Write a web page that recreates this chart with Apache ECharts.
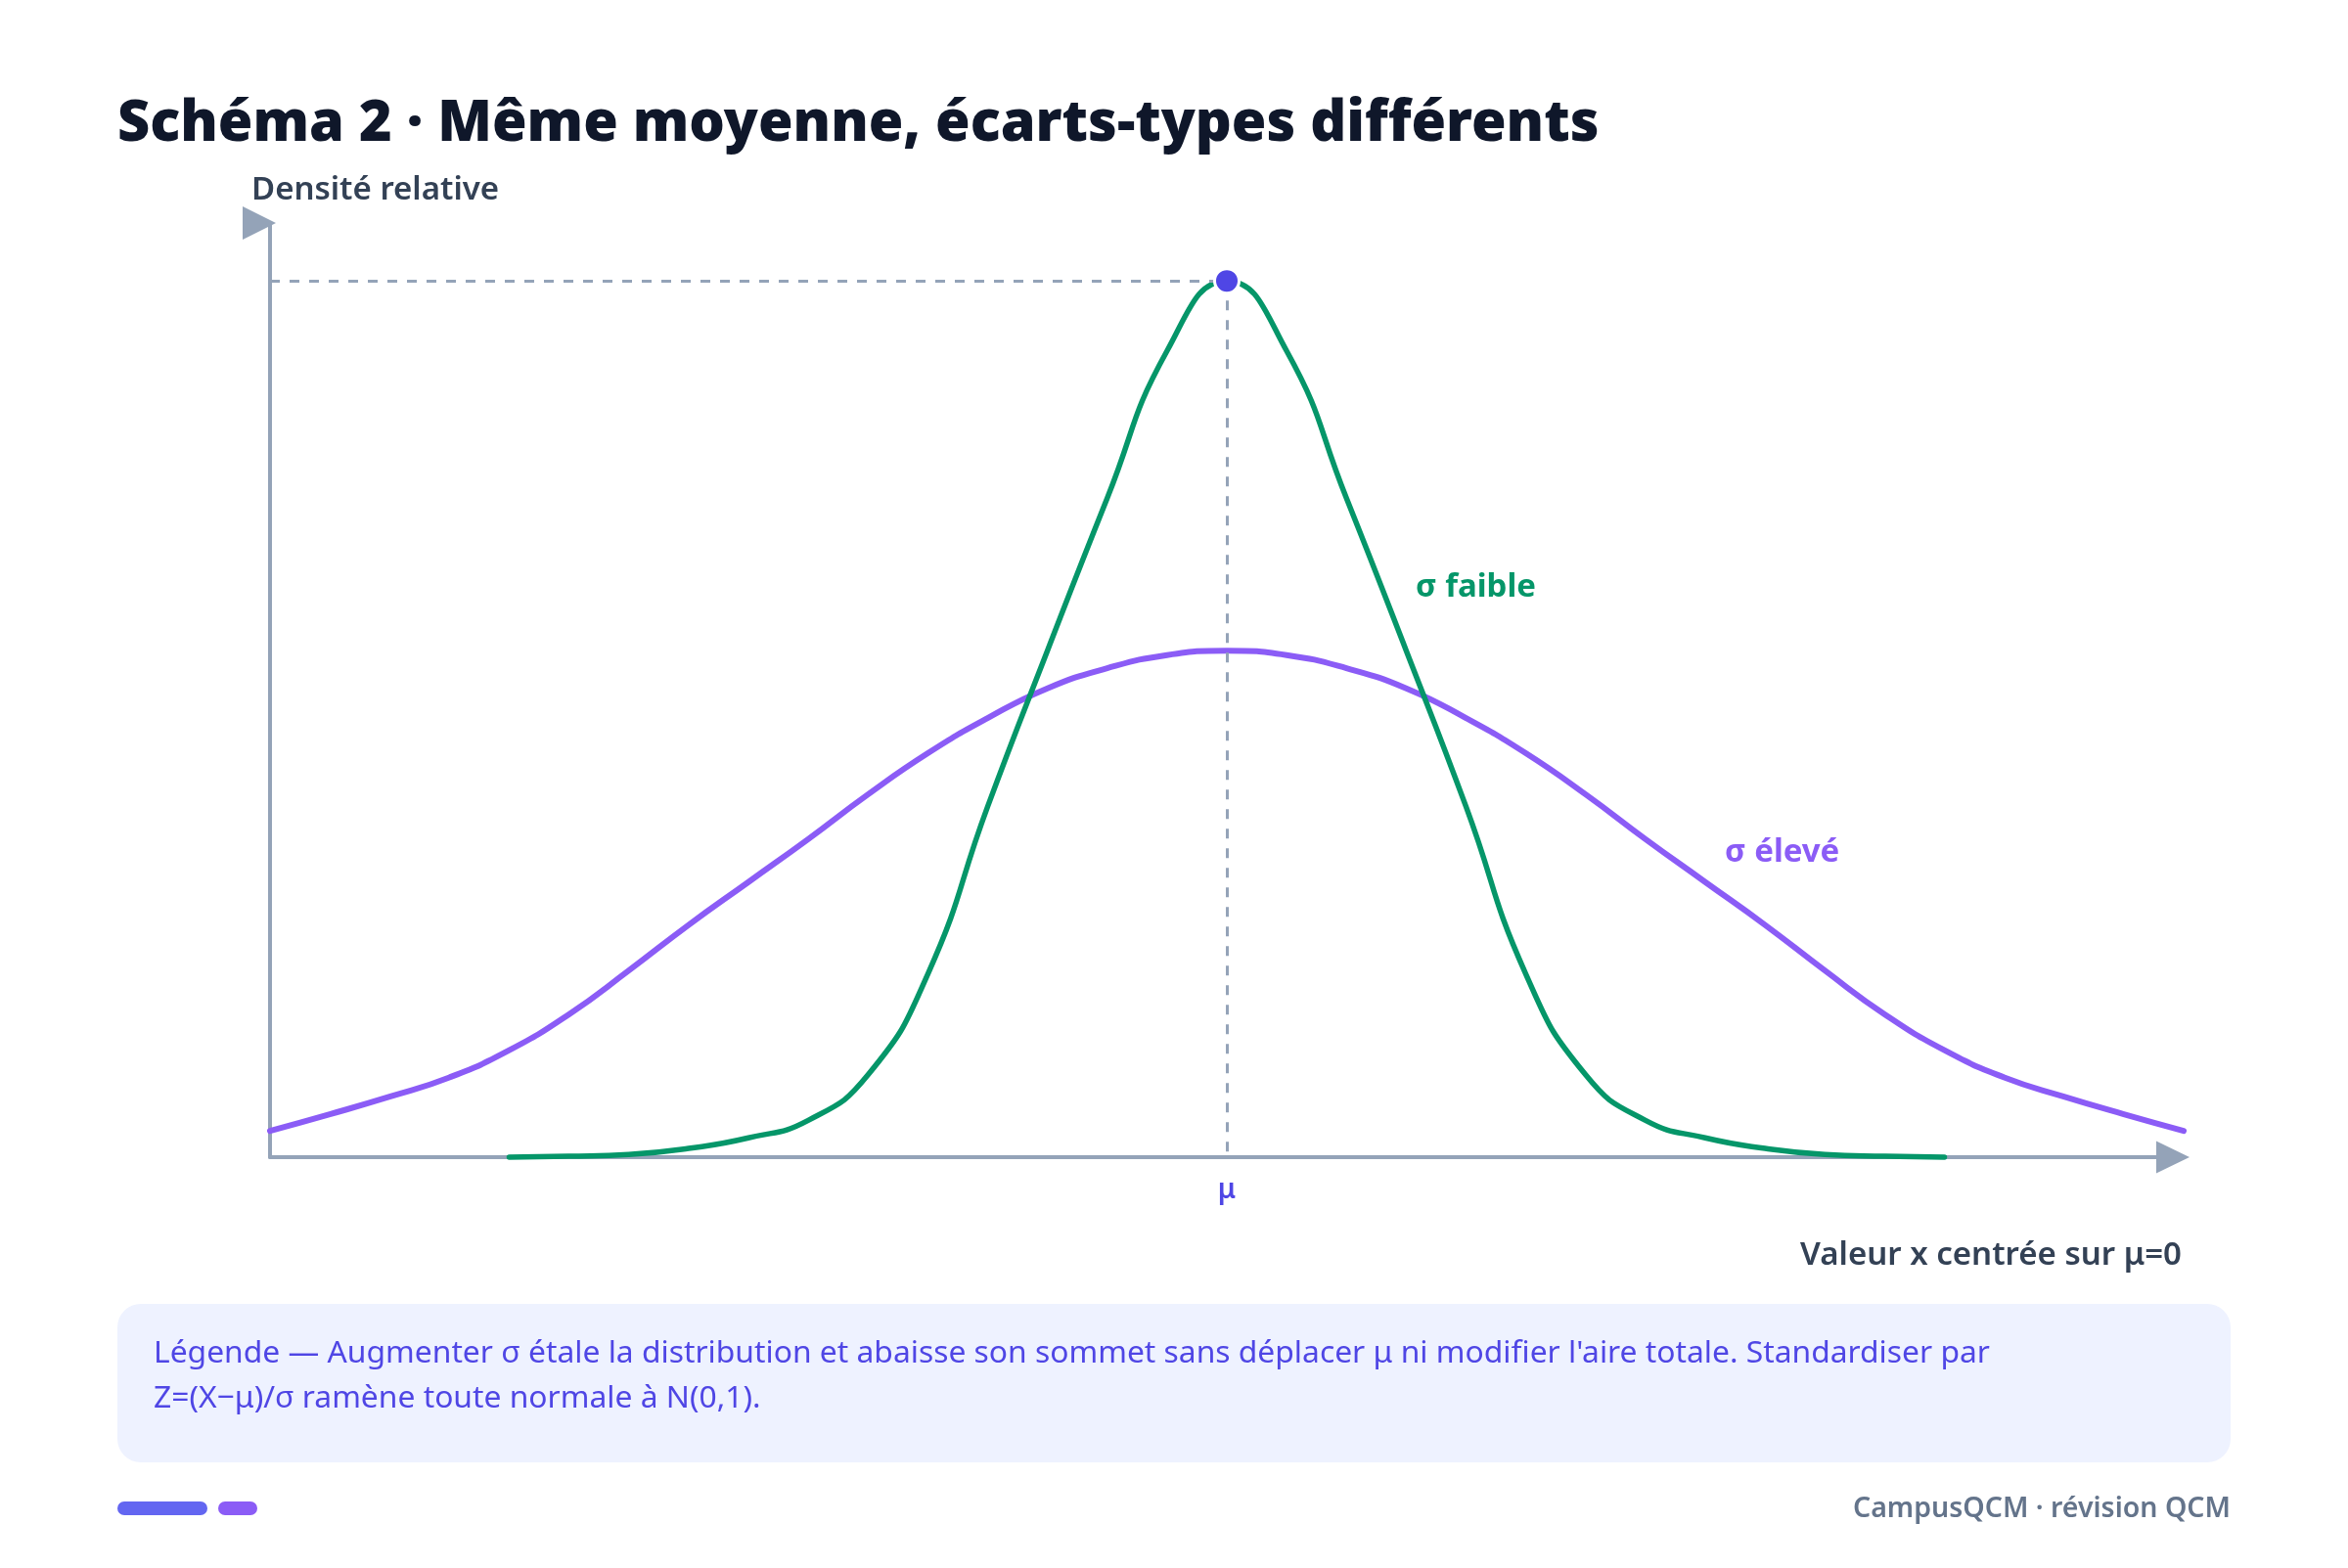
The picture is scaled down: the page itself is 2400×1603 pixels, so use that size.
<!DOCTYPE html>
<html>
<head>
<meta charset="utf-8">
<script src="https://cdn.jsdelivr.net/npm/echarts@6/dist/echarts.min.js"></script>
<style>
  html, body { margin: 0; padding: 0; background: #fff; }
  #chart { width: 2400px; height: 1603px; }
</style>
</head>
<body>
<div id="chart"></div>
<script>
(() => {
  'use strict';

  // x positions (centred on mu = 0)
  const GREEN_X = [-3, -2.75, -2.5, -2.25, -2, -1.75, -1.5, -1.25, -1, -0.75, -0.5, -0.25, 0,
    0.25, 0.5, 0.75, 1, 1.25, 1.5, 1.75, 2, 2.25, 2.5, 2.75, 3];
  const GREEN_Y = [0.000, 0.001, 0.003, 0.010, 0.022, 0.042, 0.094, 0.209, 0.400, 0.578, 0.752, 0.920, 1.000,
    0.920, 0.752, 0.578, 0.400, 0.209, 0.094, 0.042, 0.022, 0.010, 0.003, 0.001, 0.000];

  const PURPLE_X = [-4, -3.75, -3.5, -3.25, -3, -2.75, -2.5, -2.25, -2, -1.75, -1.5, -1.25, -1, -0.75, -0.5, -0.25, 0,
    0.25, 0.5, 0.75, 1, 1.25, 1.5, 1.75, 2, 2.25, 2.5, 2.75, 3, 3.25, 3.5, 3.75, 4];
  const PURPLE_Y = [0.030, 0.049, 0.069, 0.091, 0.122, 0.163, 0.213, 0.265, 0.314, 0.363, 0.414, 0.461, 0.501, 0.535, 0.558, 0.573, 0.578,
    0.573, 0.558, 0.535, 0.501, 0.461, 0.414, 0.363, 0.314, 0.265, 0.213, 0.163, 0.122, 0.091, 0.069, 0.049, 0.030];

  const MU = 0;
  const PEAK = 1.0;
  const X_MIN = -4, X_MAX = 4, Y_MAX = 1.066;

  const TITLE = 'Schéma 2 · Même moyenne, écarts-types différents';
  const Y_NAME = 'Densité relative';
  const X_NAME = 'Valeur x centrée sur μ=0';
  const LABEL_LOW = 'σ faible';
  const LABEL_HIGH = 'σ élevé';
  const NOTE_LINES = [
    "Légende — Augmenter σ étale la distribution et abaisse son sommet sans déplacer μ ni modifier l'aire totale. Standardiser par",
    'Z=(X−μ)/σ ramène toute normale à N(0,1).'
  ];
  const FOOTER = 'CampusQCM · révision QCM';

  const FONT = '"Noto Sans", "Open Sans", sans-serif';
  const C = {
    green: '#059669', purple: '#8b5cf6', dot: '#4f46e5', axis: '#94a3b8',
    ink: '#0f172a', label: '#334155', note: '#4f46e5', noteBg: '#eef2ff', footer: '#64748b'
  };

  const pair = (xs, ys) => xs.map((x, i) => [x, ys[i]]);

  const chart = echarts.init(document.getElementById('chart'), null, { renderer: 'canvas' });

  const text = (x, y, str, style) => ({
    type: 'text', x, y, silent: true,
    style: Object.assign({ text: str, fontFamily: FONT, verticalAlign: 'middle' }, style)
  });

  chart.setOption({
    animation: false,
    backgroundColor: '#fff',
    grid: { left: 276, right: 168, top: 228, bottom: 420, outerBoundsMode: 'none' },
    xAxis: {
      type: 'value', min: X_MIN, max: X_MAX, interval: 4,
      axisLine: {
        onZero: false,
        lineStyle: { color: C.axis, width: 4 },
        symbol: ['none', 'triangle'], symbolSize: [33, 34], symbolOffset: [0, -11]
      },
      axisTick: { show: false },
      splitLine: { show: false },
      axisLabel: {
        formatter: (v) => (v === MU ? 'μ' : ''),
        color: C.dot, fontFamily: FONT, fontSize: 28, fontWeight: 600, margin: 20
      }
    },
    yAxis: {
      type: 'value', min: 0, max: Y_MAX,
      axisLine: {
        show: true, onZero: false,
        lineStyle: { color: C.axis, width: 4 },
        symbol: ['none', 'path://M0,0L34,17L0,34Z M56,17L56,17.01'],
        symbolSize: [56, 34]
      },
      axisTick: { show: false },
      splitLine: { show: false },
      axisLabel: { show: false }
    },
    series: [
      {
        name: 'sigma eleve', type: 'line', data: pair(PURPLE_X, PURPLE_Y),
        smooth: 0.5, symbol: 'none', clip: false,
        lineStyle: { color: C.purple, width: 6, cap: 'round' }, z: 3
      },
      {
        name: 'sigma faible', type: 'line', data: pair(GREEN_X, GREEN_Y),
        smooth: 0.5, symbol: 'none', clip: false,
        lineStyle: { color: C.green, width: 5.5, cap: 'round' }, z: 4,
        markLine: {
          silent: true, symbol: 'none', label: { show: false },
          lineStyle: { color: C.axis, width: 3, type: [10, 10], opacity: 1 },
          data: [
            [{ coord: [X_MIN, PEAK] }, { coord: [MU, PEAK] }],
            [{ coord: [MU, PEAK] }, { coord: [MU, 0] }]
          ]
        }
      },
      {
        name: 'sommet', type: 'scatter', data: [[MU, PEAK]], symbolSize: 25,
        itemStyle: { color: C.dot, borderColor: '#fff', borderWidth: 3, opacity: 1 }, z: 6
      }
    ],
    graphic: [
      text(120, 128, TITLE, { fontSize: 57.6, fontWeight: 900, fill: C.ink }),
      text(257, 195, Y_NAME, { fontSize: 33, fontWeight: 600, fill: C.label }),
      text(2230, 1284, X_NAME, { fontSize: 33, fontWeight: 600, fill: C.label, align: 'right' }),
      text(1447, 601, LABEL_LOW, { fontSize: 33, fontWeight: 700, fill: C.green }),
      text(1763, 872, LABEL_HIGH, { fontSize: 33, fontWeight: 700, fill: C.purple }),
      {
        type: 'rect', silent: true, z: -1,
        shape: { x: 120, y: 1333, width: 2160, height: 162, r: 24 },
        style: { fill: C.noteBg }
      },
      text(157, 1384, NOTE_LINES[0], { fontSize: 31.8, fill: C.note }),
      text(157, 1430, NOTE_LINES[1], { fontSize: 31.8, fill: C.note }),
      {
        type: 'rect', silent: true,
        shape: { x: 120, y: 1535, width: 92, height: 14, r: 7 },
        style: { fill: '#6366f1' }
      },
      {
        type: 'rect', silent: true,
        shape: { x: 223, y: 1535, width: 40, height: 14, r: 7 },
        style: { fill: C.purple }
      },
      text(2280, 1543, FOOTER, { fontSize: 28.5, fontWeight: 600, fill: C.footer, align: 'right' })
    ]
  });
})();
</script>
</body>
</html>
